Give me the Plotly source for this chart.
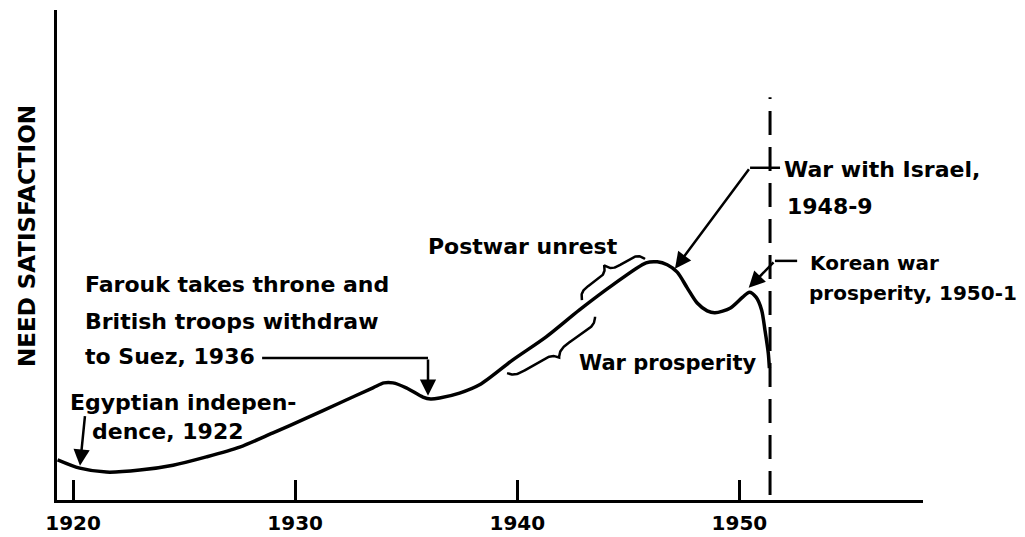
import numpy as np
import plotly.graph_objects as go

# ---------------- data ----------------
years = [1919.3, 1920.3, 1921.5, 1923.0, 1924.5, 1926.0, 1927.5, 1929.0, 1930.5,
         1932.0, 1933.5, 1934.0, 1934.4, 1935.0, 1935.75, 1936.1, 1936.5, 1937.4,
         1938.3, 1939.8, 1941.3, 1942.8, 1944.3, 1945.8, 1946.3, 1946.75, 1947.2,
         1947.65, 1948.1, 1948.55, 1948.9, 1949.6, 1950.15, 1950.45, 1950.75,
         1951.0, 1951.15, 1951.3, 1951.35]
satisfaction = [8.2, 6.5, 5.7, 6.1, 7.1, 8.8, 10.8, 13.7, 16.7,
                19.8, 22.9, 23.9, 23.9, 22.9, 21.0, 20.6, 20.8, 21.8,
                23.5, 28.6, 33.3, 38.8, 43.9, 48.4, 48.6, 48.0, 46.5,
                43.3, 40.2, 38.6, 38.2, 39.2, 41.4, 42.4, 41.4,
                38.8, 34.7, 30.0, 26.9]

tick_years = [1920, 1930, 1940, 1950]
tick_labels = ["1920", "1930", "1940", "1950"]
y_title = "NEED SATISFACTION"
cutoff_year = 1951.38
cutoff_span = [1.0, 82.2]

# text labels: (text, year, value, font size)
labels = [
    ("Farouk takes throne and", 1920.45, 43.9, 22),
    ("British troops withdraw", 1920.45, 36.5, 22),
    ("to Suez, 1936", 1920.45, 29.2, 22),
    ("Egyptian indepen-", 1919.75, 19.8, 22),
    ("dence, 1922", 1920.75, 13.9, 22),
    ("Postwar unrest", 1935.9, 51.8, 22),
    ("War prosperity", 1942.7, 28.0, 21),
    ("War with Israel,", 1951.9, 67.4, 22),
    ("1948-9", 1952.05, 59.8, 22),
    ("Korean war", 1953.1, 48.4, 20),
    ("prosperity, 1950-1", 1953.05, 42.2, 20),
]

# leader lines: (x0, y0, x1, y1) then arrows: (tail_x, tail_y, tip_x, tip_y)
leaders = [
    (1928.51, 29.0, 1935.98, 29.0),
    (1950.48, 67.8, 1951.83, 67.8),
    (1951.6, 48.8, 1952.6, 48.8),
]
arrows = [
    (1935.98, 29.0, 1935.98, 21.3),
    (1920.54, 17.4, 1920.31, 7.0),
    (1950.48, 67.8, 1947.1, 47.2),
    (1951.6, 48.8, 1950.42, 43.3),
]
# braces: (start, end, depth in px, side)
braces = [
    ((1942.91, 40.8), (1945.75, 49.2), 17, 1),
    ((1939.54, 25.9), (1943.50, 37.4), 15, -1),
]

# ---------------- layout geometry ----------------
W, H = 1025, 537
ML, MR, MT, MB = 57, 102, 10, 37
X0, X1 = 1919.275, 1958.267
Y0, Y1 = 0, 100
SX = (W - ML - MR) / (X1 - X0)
SY = (H - MT - MB) / (Y1 - Y0)


def brace(a, b, depth_px, side):
    ax_, ay_ = (a[0] - X0) * SX, a[1] * SY
    bx_, by_ = (b[0] - X0) * SX, b[1] * SY
    dx, dy = bx_ - ax_, by_ - ay_
    L = np.hypot(dx, dy)
    ux, uy = dx / L, dy / L
    nx, ny = -uy * side, ux * side
    t = np.linspace(0, 1, 161)
    u = np.minimum(t, 1 - t)
    k = 0.045
    h = depth_px / 2 * (1 - np.exp(-u / k)) + depth_px / 2 * np.exp(-(0.5 - u) / k)
    px = ax_ + ux * t * L + nx * h
    py = ay_ + uy * t * L + ny * h
    return px / SX + X0, py / SY


fig = go.Figure()
fig.add_trace(go.Scatter(x=years, y=satisfaction, mode="lines",
                         line=dict(color="black", width=3.5, shape="spline", smoothing=0.8),
                         hoverinfo="skip", showlegend=False))

for a, b, d, s in braces:
    bx, by = brace(a, b, d, s)
    fig.add_trace(go.Scatter(x=bx, y=by, mode="lines",
                             line=dict(color="black", width=2.5),
                             hoverinfo="skip", showlegend=False))

# cutoff dashed line
fig.add_shape(type="line", x0=cutoff_year, x1=cutoff_year, y0=cutoff_span[0], y1=cutoff_span[1],
              xref="x", yref="y", line=dict(color="black", width=3, dash="24px,12px"))

for x0, y0, x1, y1 in leaders:
    fig.add_shape(type="line", x0=x0, y0=y0, x1=x1, y1=y1, xref="x", yref="y",
                  line=dict(color="black", width=2.5))

for tx, ty, hx, hy in arrows:
    fig.add_annotation(x=hx, y=hy, ax=tx, ay=ty, xref="x", yref="y", axref="x", ayref="y",
                       text="", showarrow=True, arrowhead=2, arrowsize=1.3, arrowwidth=2.5,
                       arrowcolor="black", standoff=0)

for txt, x, y, sz in labels:
    fig.add_annotation(x=x, y=y, xref="x", yref="y", text=txt, showarrow=False,
                       xanchor="left", yanchor="middle",
                       font=dict(family="DejaVu Sans", size=sz, color="black", weight="bold"))

title_px = (27, 236)
fig.add_annotation(x=(title_px[0] - ML) / (W - ML - MR), y=(H - MB - title_px[1]) / (H - MT - MB),
                   xref="paper", yref="paper", text=y_title, showarrow=False,
                   textangle=-90, font=dict(family="DejaVu Sans", size=23, color="black", weight="bold"),
                   xanchor="center", yanchor="middle")

fig.update_layout(
    width=W, height=H, margin=dict(l=ML, r=MR, t=MT, b=MB, autoexpand=False),
    plot_bgcolor="white", paper_bgcolor="white", showlegend=False,
    xaxis=dict(range=[X0, X1], showgrid=False, zeroline=False, showline=True, automargin=False,
               linecolor="black", linewidth=3, ticks="inside", ticklen=20, tickwidth=2.5,
               tickcolor="black", tickvals=tick_years, ticktext=tick_labels,
               tickfont=dict(family="DejaVu Sans", size=20, color="black", weight="bold"),
               ticklabelstandoff=3),
    yaxis=dict(range=[Y0, Y1], showgrid=False, zeroline=False, showline=True, automargin=False,
               linecolor="black", linewidth=3, showticklabels=False, ticks=""),
)

fig.write_html("out.html", config={"displayModeBar": False},
               post_script="document.body.style.margin='0';document.body.style.padding='0';document.body.style.overflow='hidden';")
